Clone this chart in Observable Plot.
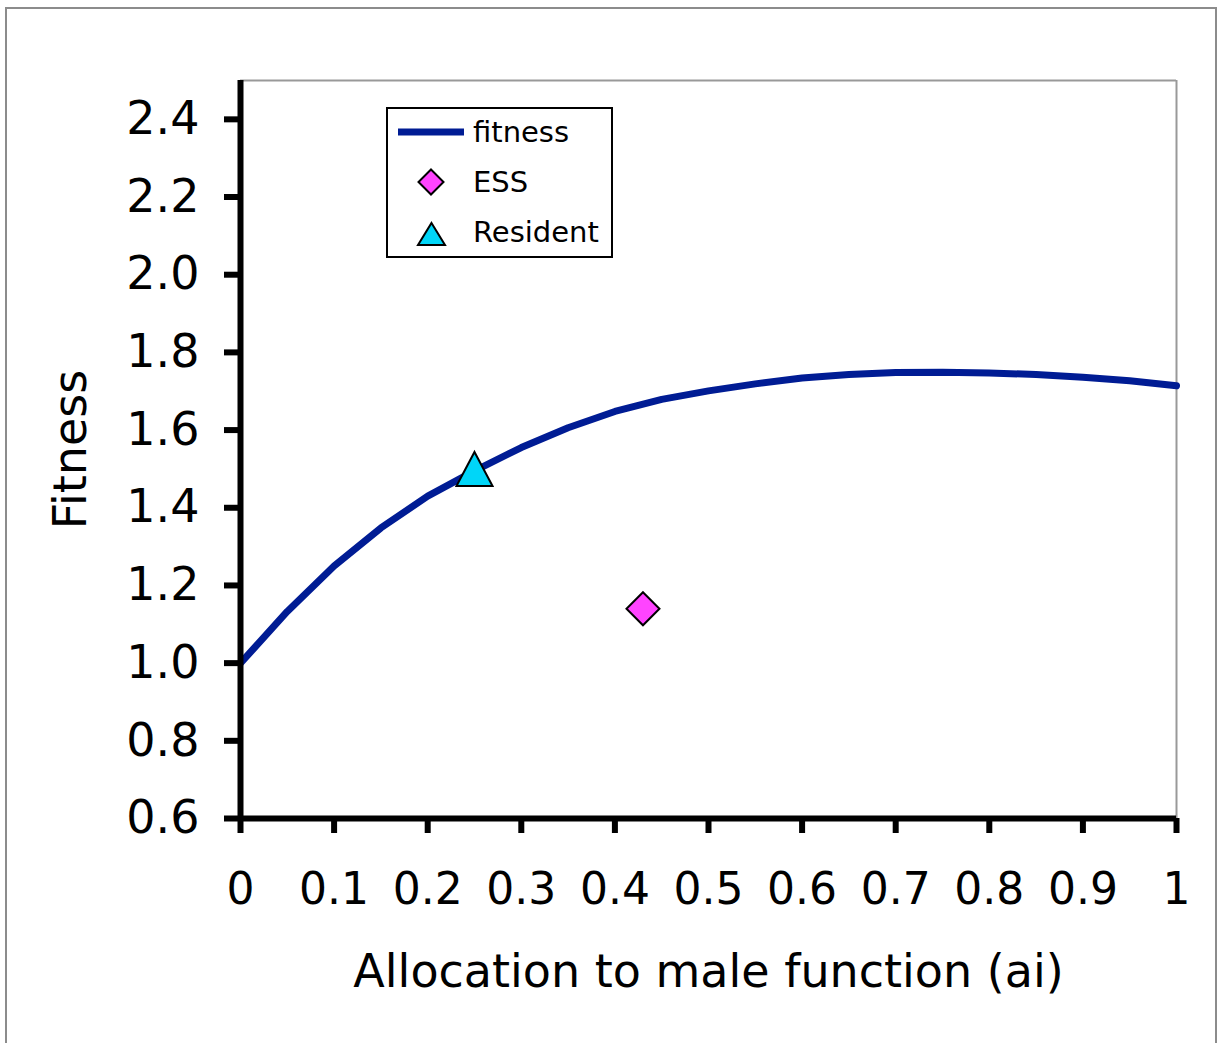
<!DOCTYPE html>
<html>
<head>
<meta charset="utf-8">
<script src="https://cdn.jsdelivr.net/npm/d3@7"></script>
<script src="https://cdn.jsdelivr.net/npm/@observablehq/plot@0.6"></script>
<style>
  html, body { margin: 0; padding: 0; background: #fff; overflow: hidden; }
  #wrap { position: relative; width: 1220px; height: 1043px; overflow: hidden; font-family: "DejaVu Sans", sans-serif; }
  #outer { position: absolute; left: 5px; top: 7px; width: 1208px; height: 1100px; border: 2px solid #8c8c8c; }
  #chart { position: absolute; left: 0; top: 0; }
  #legend { position: absolute; left: 386px; top: 107px; }
</style>
</head>
<body>
<div id="wrap">
  <div id="outer"></div>
  <div id="chart"></div>
  <svg id="legend" width="228" height="152">
    <rect x="1" y="1" width="225" height="149" fill="#fff" stroke="#000" stroke-width="2"></rect>
    <line x1="12" y1="25" x2="78" y2="25" stroke="#001c94" stroke-width="7"></line>
    <text x="87" y="25" dominant-baseline="central" font-family="DejaVu Sans" font-size="29" fill="#000">fitness</text>
    <path d="M45,62.5 L57.5,75 L45,87.5 L32.5,75 Z" fill="#ff44ff" stroke="#000" stroke-width="2"></path>
    <text x="87" y="75" dominant-baseline="central" font-family="DejaVu Sans" font-size="29" fill="#000">ESS</text>
    <path d="M45.5,116 L59,138 L32,138 Z" fill="#00d6f8" stroke="#000" stroke-width="2"></path>
    <text x="87" y="125" dominant-baseline="central" font-family="DejaVu Sans" font-size="29" fill="#000">Resident</text>
  </svg>
</div>
<script>
// ---- data ----
const allocation = [0, 0.05, 0.1, 0.15, 0.2, 0.25, 0.3, 0.35, 0.4, 0.45, 0.5, 0.55, 0.6, 0.65, 0.7, 0.75, 0.8, 0.85, 0.9, 0.95, 1];
const fitnessValues = [1.000, 1.133, 1.250, 1.348, 1.430, 1.495, 1.555, 1.606, 1.648, 1.679, 1.701, 1.719, 1.734, 1.743, 1.748, 1.749, 1.747, 1.743, 1.736, 1.727, 1.714];
const essAllocation = [0.43];
const essFitness = [1.14];
const residentAllocation = [0.25];
const residentFitness = [1.5];
const xTickValues = [0, 0.1, 0.2, 0.3, 0.4, 0.5, 0.6, 0.7, 0.8, 0.9, 1];
const yTickValues = [0.6, 0.8, 1.0, 1.2, 1.4, 1.6, 1.8, 2.0, 2.2, 2.4];
const xTitle = "Allocation to male function (ai)";
const yTitle = "Fitness";

const curve = allocation.map((a, i) => ({a, f: fitnessValues[i]}));
const ess = essAllocation.map((a, i) => ({a, f: essFitness[i]}));
const resident = residentAllocation.map((a, i) => ({a, f: residentFitness[i]}));

// bounding-box centred marker shapes (like spreadsheet markers)
const triangleSym = {draw(ctx, size) {
  const r = Math.sqrt(size / Math.PI), w = r * 1.06;
  ctx.moveTo(0, -r); ctx.lineTo(w, r); ctx.lineTo(-w, r); ctx.closePath();
}};
const diamondSym = {draw(ctx, size) {
  const r = Math.sqrt(size / Math.PI);
  ctx.moveTo(0, -r); ctx.lineTo(r, 0); ctx.lineTo(0, r); ctx.lineTo(-r, 0); ctx.closePath();
}};

const chart = Plot.plot({
  width: 1220,
  height: 1043,
  marginLeft: 240,
  marginRight: 44,
  marginTop: 80,
  marginBottom: 225,
  x: {domain: [0, 1]},
  y: {domain: [0.6, 2.5]},
  style: {fontFamily: "DejaVu Sans", fontSize: "44px", color: "#000", background: "transparent", overflow: "visible"},
  marks: [
    Plot.ruleY([2.5], {stroke: "#999", strokeWidth: 2}),
    Plot.ruleX([1], {stroke: "#999", strokeWidth: 2}),
    Plot.line(curve, {x: "a", y: "f", stroke: "#001c94", strokeWidth: 7, strokeLinejoin: "round"}),
    Plot.dot(resident, {x: "a", y: "f", symbol: triangleSym, r: 17, fill: "#00d6f8", stroke: "#000", strokeWidth: 2}),
    Plot.dot(ess, {x: "a", y: "f", symbol: diamondSym, r: 16.5, fill: "#ff44ff", stroke: "#000", strokeWidth: 2}),
    Plot.ruleX([0], {stroke: "#000", strokeWidth: 6}),
    Plot.ruleY([0.6], {stroke: "#000", strokeWidth: 6}),
    Plot.axisX({ticks: xTickValues, tickSize: 15, tickPadding: 39, strokeWidth: 6, stroke: "#000", fill: "#000", fontSize: 44, tickFormat: d => String(d), label: null}),
    Plot.axisY({ticks: yTickValues, tickSize: 16, tickPadding: 25, strokeWidth: 6, stroke: "#000", fill: "#000", fontSize: 46, tickFormat: d => d.toFixed(1), label: null}),
    Plot.text([xTitle], {frameAnchor: "bottom", dy: 154, text: d => d, fontSize: 46, fill: "#000", textAnchor: "middle", lineAnchor: "middle"}),
    Plot.text([yTitle], {frameAnchor: "left", dx: -169, text: d => d, fontSize: 46, fill: "#000", rotate: -90, textAnchor: "middle", lineAnchor: "middle"})
  ]
});
document.getElementById("chart").appendChild(chart);
</script>
</body>
</html>
